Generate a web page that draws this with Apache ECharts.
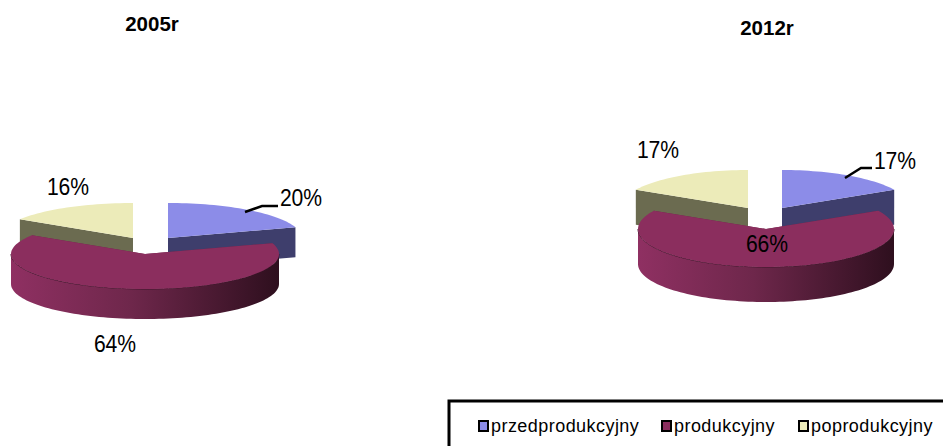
<!DOCTYPE html>
<html>
<head>
<meta charset="utf-8">
<style>
  html, body { margin: 0; padding: 0; background: #fff; }
  #main { width: 943px; height: 446px; }
  /* rozstrzelony tekst legendy jak w oryginale */
  #main text[style*="18px"] { letter-spacing: 0.45px; }
</style>
<script src="https://cdn.jsdelivr.net/npm/echarts@6/dist/echarts.min.js"></script>
</head>
<body>
<div id="main"></div>
<script>
// dane
const categories = ['przedprodukcyjny', 'produkcyjny', 'poprodukcyjny'];
const years = ['2005r', '2012r'];
const values2005 = [20, 64, 16];
const values2012 = [17, 66, 17];
const yearValues = [values2005, values2012];

// kolory
const topColors = ['#8c8ce8', '#8b2e5e', '#ecebb9'];
const sideColors = ['#3e3e6c', '#6a2648', '#6b6b50'];
const legendLeft = [478, 661, 798];

// uklad obu kolek
const pies = [
  {
    rx: 134, ry: 35, depth: 30,
    centers: [[168, 238], [145, 254], [133, 238]],
    labels: [[301, 198], [115, 344], [68, 187]],
    leader: [[245, 212], [262, 206], [278, 206]]
  },
  {
    rx: 128, ry: 38, depth: 35,
    centers: [[782, 208], [766, 229], [748, 208]],
    labels: [[895, 161], [767, 244], [658, 150]],
    leader: [[845, 178], [861, 168], [872, 168]]
  }
];

function ellipsePoint(c, rx, ry, deg, dy) {
  const a = deg * Math.PI / 180;
  return [c[0] + rx * Math.sin(a), c[1] - ry * Math.cos(a) + (dy || 0)];
}

function arcPoints(c, rx, ry, from, to, dy) {
  const pts = [];
  for (let d = from; d < to; d += 2) pts.push(ellipsePoint(c, rx, ry, d, dy));
  pts.push(ellipsePoint(c, rx, ry, to, dy));
  return pts;
}

function radialFace(c, pie, deg, color) {
  const p = ellipsePoint(c, pie.rx, pie.ry, deg);
  return {
    type: 'polygon',
    shape: { points: [c, p, [p[0], p[1] + pie.depth], [c[0], c[1] + pie.depth]] },
    style: { fill: color }
  };
}

// jeden wycinek 3D, katy liczone z wartosci
function renderSlice(params, api) {
  const year = params.dataIndex;
  const cat = params.seriesIndex;
  const pie = pies[year];
  const vals = yearValues[year];
  const total = vals.reduce((a, b) => a + b, 0);
  const before = vals.slice(0, cat).reduce((a, b) => a + b, 0);
  const value = api.value(0);
  const a0 = before / total * 360;
  const a1 = (before + value) / total * 360;
  const c = pie.centers[cat];
  const children = [
    radialFace(c, pie, a0, sideColors[cat]),
    radialFace(c, pie, a1, sideColors[cat])
  ];
  // zewnetrzna sciana tylko z przodu
  const f0 = Math.max(a0, 90);
  const f1 = Math.min(a1, 270);
  if (f1 > f0) {
    const upper = arcPoints(c, pie.rx, pie.ry, f0, f1, 0);
    const lower = arcPoints(c, pie.rx, pie.ry, f0, f1, pie.depth).reverse();
    children.push({
      type: 'polygon',
      shape: { points: upper.concat(lower) },
      style: {
        fill: {
          type: 'linear', x: 0, y: 0, x2: 1, y2: 0,
          colorStops: [
            { offset: 0, color: '#8f3062' },
            { offset: 0.45, color: '#6e274b' },
            { offset: 1, color: '#2e0f1e' }
          ]
        }
      }
    });
    children.push({
      type: 'polyline',
      shape: { points: upper },
      style: { stroke: '#3c1529', lineWidth: 1, fill: null }
    });
  }
  children.push({
    type: 'polygon',
    shape: { points: [c].concat(arcPoints(c, pie.rx, pie.ry, a0, a1, 0)) },
    style: { fill: topColors[cat] }
  });
  if (cat === 0) {
    children.push({
      type: 'polyline',
      shape: { points: pie.leader },
      style: { stroke: '#000', lineWidth: 2.5, fill: null }
    });
  }
  // etykiety waskie i wysokie, stad scaleX
  children.push({
    type: 'text',
    x: pie.labels[cat][0],
    y: pie.labels[cat][1],
    scaleX: 0.88,
    style: {
      text: value + '%',
      fill: '#000',
      font: '24px "Liberation Sans"',
      align: 'center',
      verticalAlign: 'middle'
    }
  });
  return { type: 'group', children: children };
}

const myChart = echarts.init(document.getElementById('main'), null, { renderer: 'svg' });

const option = {
  backgroundColor: '#fff',
  animation: false,
  title: [
    { text: years[0], left: 147, top: 8, textAlign: 'center',
      textStyle: { fontFamily: 'Liberation Sans', fontSize: 20.5, fontWeight: 'bold', color: '#000' } },
    { text: years[1], left: 762, top: 12, textAlign: 'center',
      textStyle: { fontFamily: 'Liberation Sans', fontSize: 20.5, fontWeight: 'bold', color: '#000' } }
  ],
  legend: categories.map(function (name, i) {
    return {
      data: [name],
      left: legendLeft[i],
      top: 417,
      padding: 0,
      itemWidth: 9,
      itemHeight: 10,
      itemGap: 0,
      icon: 'rect',
      selectedMode: false,
      itemStyle: { borderColor: '#000', borderWidth: 2 },
      textStyle: { fontFamily: 'Liberation Sans', fontSize: 18, color: '#000', padding: [0, 0, 0, -2] }
    };
  }),
  graphic: [{
    type: 'rect',
    silent: true,
    shape: { x: 449, y: 401, width: 600, height: 100 },
    style: { fill: 'none', stroke: '#000', lineWidth: 3 }
  }],
  series: categories.map(function (name, i) {
    return {
      name: name,
      type: 'custom',
      coordinateSystem: 'none',
      z: i === 1 ? 3 : 2,
      silent: true,
      itemStyle: { color: topColors[i] },
      renderItem: renderSlice,
      data: yearValues.map(function (v) { return v[i]; })
    };
  })
};

myChart.setOption(option);
window.addEventListener('resize', () => myChart.resize());
</script>
</body>
</html>
